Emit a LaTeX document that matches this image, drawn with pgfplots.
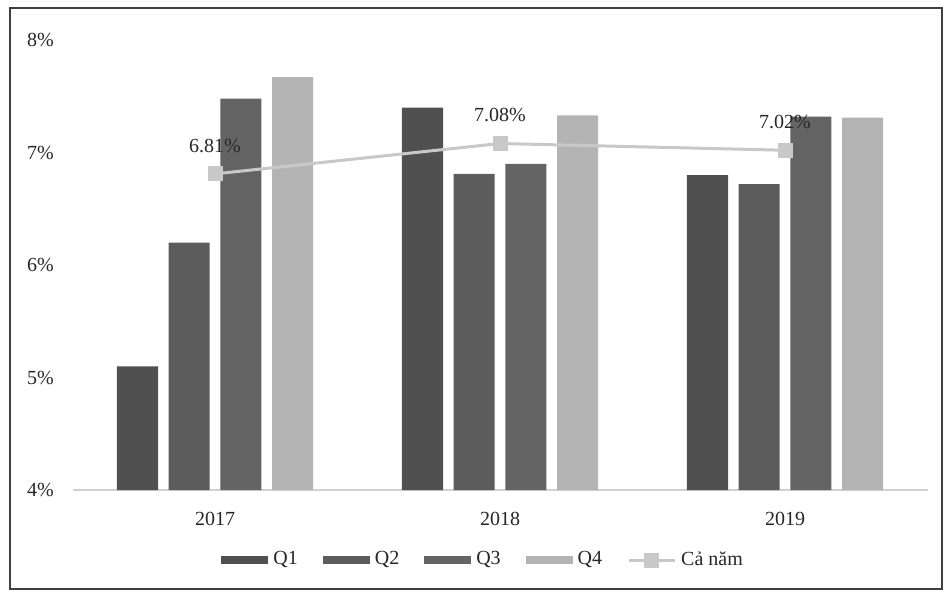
\documentclass[border=0pt]{standalone}
\usepackage{fontspec}
\setmainfont{Liberation Serif}
\usepackage{pgfplots}
\pgfplotsset{compat=1.18}
\definecolor{cQ1}{HTML}{505050}
\definecolor{cQ2}{HTML}{5C5C5C}
\definecolor{cQ3}{HTML}{646464}
\definecolor{cQ4}{HTML}{B4B4B4}
\definecolor{cLine}{HTML}{C8C8C8}
\pgfplotsset{
  barleg/.style={legend image code/.code={\fill[##1] (0pt,-1.5pt) rectangle (18.8pt,1.5pt);}},
  lineleg/.style={legend image code/.code={\draw[mark repeat=2, mark phase=2, ##1] plot coordinates {(0pt,0pt) (9.2pt,0pt) (18.4pt,0pt)};}},
}
\begin{document}
\begin{tikzpicture}
\useasboundingbox (0,0) rectangle (377.2pt,236.4pt);
\draw[line width=0.8pt, color=black!75] (4pt,0.8pt) rectangle (376.8pt,233.2pt);
\begin{axis}[
  at={(29pt,40.4pt)}, anchor=south west,
  scale only axis, width=342pt, height=180pt,
  xmin=-0.5, xmax=2.5, ymin=4, ymax=8,
  xtick={0,1,2}, xticklabels={2017,2018,2019},
  ytick={4,5,6,7,8},
  yticklabel={\pgfmathprintnumber{\tick}\%},
  /pgf/number format/assume math mode=true,
  axis x line*=bottom, axis y line*=left,
  x axis line style={draw=black!18, line width=0.6pt, -},
  y axis line style={draw=none},
  major tick length=0pt,
  tick label style={font=\fontsize{8}{9}\selectfont, text=black!85},
  yticklabel style={xshift=-4pt},
  xticklabel style={yshift=-5.5pt},
  legend style={at={(0.482,-0.156)}, anchor=center, draw=none, fill=none,
    legend columns=-1, font=\fontsize{8}{9}\selectfont, text=black!85,
    /tikz/every even column/.append style={column sep=8pt}},
  clip=false,
]
% labels first so the bars cover them, as in the reference
\addplot[draw=none, mark=none, forget plot,
  point meta=explicit symbolic,
  nodes near coords,
  nodes near coords style={anchor=south, yshift=5pt, font=\fontsize{8}{9}\selectfont, text=black!85}]
  coordinates {(0,6.81) [6.81\%] (1,7.08) [7.08\%] (2,7.02) [7.02\%]};
\addplot[ybar, bar width=0.144, bar shift=-0.272, fill=cQ1, draw=none, barleg]
  coordinates {(0,5.10) (1,7.40) (2,6.80)};
\addplot[ybar, bar width=0.144, bar shift=-0.091, fill=cQ2, draw=none, barleg]
  coordinates {(0,6.20) (1,6.81) (2,6.72)};
\addplot[ybar, bar width=0.144, bar shift=0.091, fill=cQ3, draw=none, barleg]
  coordinates {(0,7.48) (1,6.90) (2,7.32)};
\addplot[ybar, bar width=0.144, bar shift=0.272, fill=cQ4, draw=none, barleg]
  coordinates {(0,7.67) (1,7.33) (2,7.31)};
\addplot[color=cLine, line width=1.2pt, mark=square*, mark size=2.4pt,
  mark options={fill=cLine, draw=cLine}, lineleg]
  coordinates {(0,6.81) (1,7.08) (2,7.02)};
\legend{Q1, Q2, Q3, Q4, Cả năm}
\end{axis}
\end{tikzpicture}
\end{document}
